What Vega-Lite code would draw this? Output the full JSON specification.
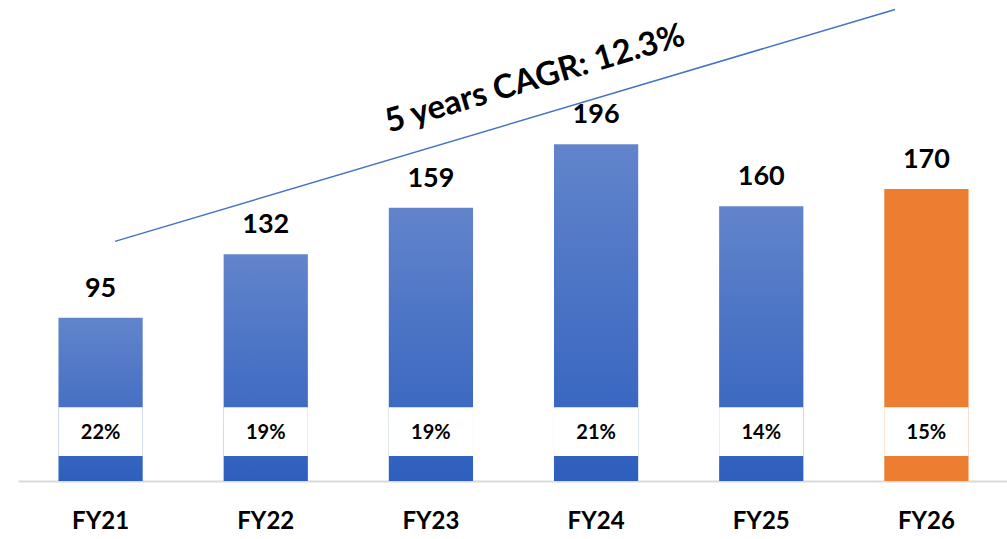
{
  "$schema": "https://vega.github.io/schema/vega-lite/v6.json",
  "width": 991,
  "height": 481,
  "autosize": {"type": "none"},
  "padding": {"left": 18, "top": 0, "right": 0, "bottom": 58},
  "background": "white",
  "config": {"view": {"stroke": null}, "font": "Lato"},
  "layer": [
    {
      "data": {"values": [
        {"fy": "FY21", "value": 95, "pct": "22%", "kind": "actual"},
        {"fy": "FY22", "value": 132, "pct": "19%", "kind": "actual"},
        {"fy": "FY23", "value": 159, "pct": "19%", "kind": "actual"},
        {"fy": "FY24", "value": 196, "pct": "21%", "kind": "actual"},
        {"fy": "FY25", "value": 160, "pct": "14%", "kind": "actual"},
        {"fy": "FY26", "value": 170, "pct": "15%", "kind": "target"}
      ]},
      "encoding": {
        "x": {"field": "fy", "type": "nominal", "sort": null, "scale": {"paddingInner": 0.49, "paddingOuter": 0.245},
          "axis": {"title": null, "labelFontSize": 24, "labelFontWeight": "bold", "labelColor": "#000000", "labelPadding": 28, "ticks": false, "domainColor": "#D9D9D9", "domainWidth": 2, "labelAngle": 0, "labelFont": "Lato"}}
      },
      "layer": [
        {
          "transform": [{"filter": "datum.kind === 'actual'"}],
          "mark": {"type": "bar", "color": {"gradient": "linear", "x1": 0, "y1": 0, "x2": 0, "y2": 1, "stops": [{"offset": 0, "color": "#6284CB"}, {"offset": 1, "color": "#2E5FBE"}]}},
          "encoding": {
            "y": {"field": "value", "type": "quantitative", "scale": {"domain": [0, 280], "nice": false}, "axis": null}
          }
        },
        {
          "transform": [{"filter": "datum.kind === 'target'"}],
          "mark": {"type": "bar", "color": "#ED7D31"},
          "encoding": {
            "y": {"field": "value", "type": "quantitative"}
          }
        },
        {
          "mark": {"type": "bar", "color": "#FFFFFF"},
          "encoding": {
            "y": {"datum": 14.5},
            "y2": {"datum": 43}
          }
        },
        {
          "mark": {"type": "text", "fontSize": 20, "fontWeight": "bold", "color": "#000000", "baseline": "middle"},
          "encoding": {
            "y": {"datum": 28},
            "text": {"field": "pct"}
          }
        },
        {
          "mark": {"type": "text", "fontSize": 27, "fontWeight": "bold", "color": "#000000", "baseline": "middle", "dy": -29},
          "encoding": {
            "y": {"field": "value", "type": "quantitative"},
            "text": {"field": "value"}
          }
        }
      ]
    },
    {
      "data": {"values": [{"px": 0.587, "py": 139.5}, {"px": 5.31, "py": 274.5}]},
      "encoding": {
        "x": {"field": "px", "type": "quantitative", "scale": {"domain": [0, 6], "nice": false, "zero": false}, "axis": null},
        "y": {"field": "py", "type": "quantitative"}
      },
      "layer": [
        {
          "mark": {"type": "line", "color": "#4472C4", "strokeWidth": 1.5}
        },
        {
          "data": {"values": [{"px": 3.13, "py": 234, "label": "5 years CAGR: 12.3%"}]},
          "mark": {"type": "text", "fontSize": 33, "fontWeight": "bold", "color": "#000000", "angle": -16.5, "align": "center", "baseline": "middle"},
          "encoding": {
            "text": {"field": "label"}
          }
        }
      ]
    }
  ],
  "resolve": {"scale": {"x": "independent"}, "axis": {"x": "independent"}}
}
